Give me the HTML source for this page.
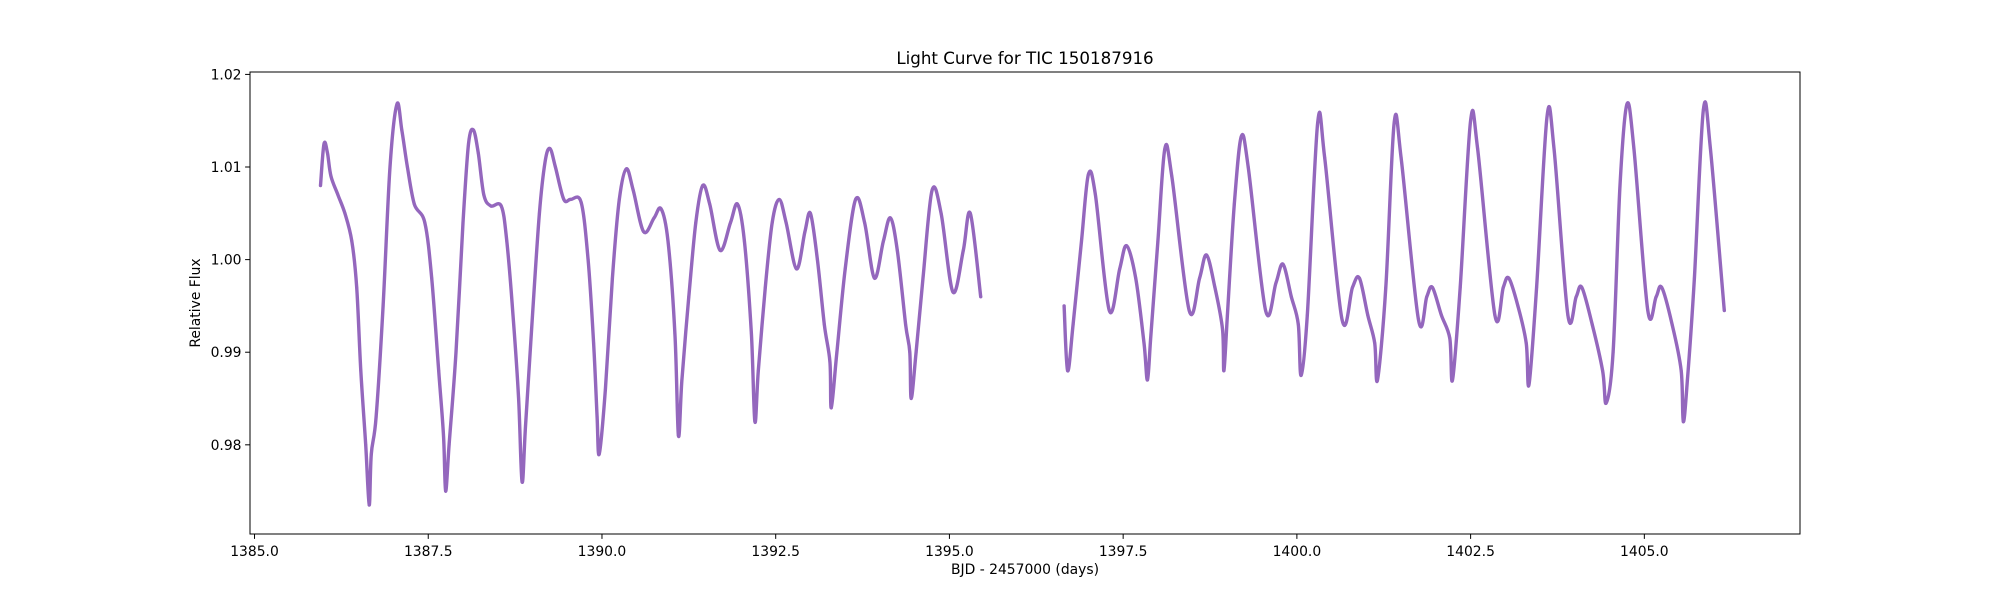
<!DOCTYPE html>
<html><head><meta charset="utf-8">
<style>
html,body{margin:0;padding:0;background:#fff;}
svg{display:block;font-family:"DejaVu Sans","Liberation Sans",sans-serif;}
</style></head>
<body>
<svg id="chart" width="2000" height="600" viewBox="0 0 2000 600">
  <rect x="0" y="0" width="2000" height="600" fill="#fff"/>
  <g id="series"></g>
  <rect x="250" y="72" width="1550" height="462" fill="none" stroke="#000" stroke-width="1"/>
  <g id="xticks"></g>
  <g id="yticks"></g>
  <text x="1025" y="64" text-anchor="middle" font-size="16.7">Light Curve for TIC 150187916</text>
  <text x="1025" y="574" text-anchor="middle" font-size="13.9">BJD - 2457000 (days)</text>
  <text x="0" y="0" transform="translate(200,303) rotate(-90)" text-anchor="middle" font-size="13.9">Relative Flux</text>
</svg>
<script>
const times = [1385.95,1386.0,1386.05,1386.1,1386.2,1386.3,1386.4,1386.47,1386.53,1386.6,1386.65,1386.68,1386.75,1386.85,1386.95,1387.05,1387.12,1387.2,1387.3,1387.45,1387.55,1387.65,1387.72,1387.75,1387.8,1387.9,1388.0,1388.08,1388.15,1388.22,1388.3,1388.4,1388.55,1388.63,1388.72,1388.8,1388.85,1388.9,1389.0,1389.1,1389.18,1389.25,1389.33,1389.45,1389.55,1389.7,1389.8,1389.88,1389.93,1389.96,1390.05,1390.15,1390.25,1390.35,1390.45,1390.6,1390.75,1390.85,1390.95,1391.05,1391.1,1391.15,1391.25,1391.35,1391.45,1391.55,1391.7,1391.85,1391.95,1392.05,1392.15,1392.2,1392.25,1392.35,1392.45,1392.55,1392.65,1392.8,1392.92,1393.0,1393.1,1393.2,1393.28,1393.3,1393.38,1393.5,1393.65,1393.78,1393.92,1394.05,1394.15,1394.25,1394.37,1394.43,1394.45,1394.52,1394.62,1394.75,1394.88,1395.05,1395.2,1395.3,1395.45,
1396.65,1396.7,1396.78,1396.9,1397.0,1397.1,1397.3,1397.45,1397.55,1397.68,1397.8,1397.85,1397.9,1398.0,1398.1,1398.2,1398.45,1398.6,1398.7,1398.82,1398.93,1398.95,1399.0,1399.1,1399.2,1399.3,1399.55,1399.7,1399.8,1399.92,1400.02,1400.06,1400.15,1400.3,1400.4,1400.65,1400.8,1400.9,1401.02,1401.12,1401.16,1401.28,1401.4,1401.5,1401.75,1401.87,1401.95,1402.08,1402.2,1402.24,1402.35,1402.5,1402.6,1402.85,1402.97,1403.05,1403.18,1403.3,1403.34,1403.45,1403.6,1403.7,1403.9,1404.02,1404.1,1404.25,1404.4,1404.45,1404.55,1404.65,1404.75,1404.85,1405.05,1405.17,1405.25,1405.4,1405.53,1405.56,1405.62,1405.72,1405.85,1405.95,1406.15];
const flux = [1.008,1.0125,1.0115,1.009,1.007,1.005,1.002,0.997,0.988,0.980,0.9735,0.979,0.983,0.995,1.010,1.0168,1.014,1.010,1.006,1.004,0.998,0.988,0.981,0.975,0.980,0.990,1.004,1.0125,1.014,1.0115,1.007,1.0058,1.0058,1.002,0.994,0.985,0.976,0.982,0.994,1.005,1.0105,1.012,1.010,1.0065,1.0065,1.0062,1.0,0.991,0.983,0.979,0.986,0.998,1.0065,1.0098,1.0075,1.003,1.0045,1.0055,1.002,0.992,0.981,0.987,0.996,1.004,1.008,1.006,1.001,1.004,1.006,1.002,0.992,0.9825,0.988,0.997,1.004,1.0065,1.004,0.999,1.003,1.005,1.0,0.993,0.989,0.984,0.990,0.999,1.0065,1.004,0.998,1.002,1.0045,1.001,0.993,0.990,0.985,0.990,0.998,1.0075,1.005,0.9965,1.001,1.005,0.996,
0.995,0.988,0.993,1.002,1.0092,1.007,0.9945,0.999,1.0015,0.998,0.991,0.987,0.992,1.002,1.012,1.009,0.9945,0.998,1.0005,0.997,0.9925,0.988,0.994,1.006,1.0133,1.010,0.9945,0.9975,0.9995,0.996,0.993,0.9875,0.994,1.0148,1.011,0.9935,0.997,0.998,0.994,0.991,0.987,0.997,1.0148,1.011,0.9935,0.996,0.997,0.994,0.9915,0.987,0.997,1.015,1.012,0.994,0.997,0.998,0.995,0.991,0.9865,0.997,1.0155,1.012,0.994,0.996,0.997,0.993,0.988,0.9845,0.990,1.008,1.0168,1.012,0.9945,0.996,0.997,0.993,0.988,0.9825,0.987,0.998,1.0162,1.012,0.9945];
const xTickValues = [1385.0,1387.5,1390.0,1392.5,1395.0,1397.5,1400.0,1402.5,1405.0];
const xTickLabels = ["1385.0","1387.5","1390.0","1392.5","1395.0","1397.5","1400.0","1402.5","1405.0"];
const yTickValues = [0.98,0.99,1.00,1.01,1.02];
const yTickLabels = ["0.98","0.99","1.00","1.01","1.02"];

const NS = "http://www.w3.org/2000/svg";
const X0=250,X1=1800,Y0=72,Y1=534;
const xMin=1384.935,xMax=1407.24,yMin=0.97037,yMax=1.02026;
function xs(t){return X0+(t-xMin)/(xMax-xMin)*(X1-X0);}
function ys(f){return Y1-(f-yMin)/(yMax-yMin)*(Y1-Y0);}

// split into segments at data gaps
const segs=[];let cur=[];
for(let i=0;i<times.length;i++){
  if(i>0&&times[i]-times[i-1]>0.5){segs.push(cur);cur=[];}
  cur.push([xs(times[i]),ys(flux[i])]);
}
segs.push(cur);
let d="";
segs.forEach(p=>{
  d+="M"+p[0][0].toFixed(1)+","+p[0][1].toFixed(1);
  for(let i=0;i<p.length-1;i++){
    const p0=p[Math.max(0,i-1)],p1=p[i],p2=p[i+1],p3=p[Math.min(p.length-1,i+2)];
    const c1x=p1[0]+(p2[0]-p0[0])/6,c1y=p1[1]+(p2[1]-p0[1])/6;
    const c2x=p2[0]-(p3[0]-p1[0])/6,c2y=p2[1]-(p3[1]-p1[1])/6;
    d+=" C"+c1x.toFixed(1)+","+c1y.toFixed(1)+" "+c2x.toFixed(1)+","+c2y.toFixed(1)+" "+p2[0].toFixed(1)+","+p2[1].toFixed(1);
  }
  d+=" ";
});
const series=document.getElementById('series');
const path=document.createElementNS(NS,'path');
path.setAttribute('d',d);
path.setAttribute('fill','none');
path.setAttribute('stroke','#9467bd');
path.setAttribute('stroke-width','3.4');
path.setAttribute('stroke-linejoin','round');
path.setAttribute('stroke-linecap','round');


series.appendChild(path);
for(let i=0;i<times.length;i++){
  const c=document.createElementNS(NS,'circle');
  c.setAttribute('cx',xs(times[i]).toFixed(1));
  c.setAttribute('cy',ys(flux[i]).toFixed(1));
  c.setAttribute('r','1.5');
  c.setAttribute('fill','#9467bd');
  
  
  series.appendChild(c);
}

const xg=document.getElementById('xticks');
xTickValues.forEach((v,i)=>{
  const x=xs(v);
  const l=document.createElementNS(NS,'line');
  l.setAttribute('x1',x);l.setAttribute('x2',x);l.setAttribute('y1',Y1);l.setAttribute('y2',Y1+4.9);
  l.setAttribute('stroke','#000');l.setAttribute('stroke-width','1');
  
  
  xg.appendChild(l);
  const t=document.createElementNS(NS,'text');
  t.setAttribute('x',x);t.setAttribute('y',Y1+22);t.setAttribute('text-anchor','middle');t.setAttribute('font-size','13.9');
  t.textContent=xTickLabels[i];
  
  
  xg.appendChild(t);
});
const yg=document.getElementById('yticks');
yTickValues.forEach((v,i)=>{
  const y=ys(v);
  const l=document.createElementNS(NS,'line');
  l.setAttribute('x1',X0-4.9);l.setAttribute('x2',X0);l.setAttribute('y1',y);l.setAttribute('y2',y);
  l.setAttribute('stroke','#000');l.setAttribute('stroke-width','1');
  
  
  yg.appendChild(l);
  const t=document.createElementNS(NS,'text');
  t.setAttribute('x',X0-8.5);t.setAttribute('y',y+5);t.setAttribute('text-anchor','end');t.setAttribute('font-size','13.9');
  t.textContent=yTickLabels[i];
  
  
  yg.appendChild(t);
});
</script>
</body></html>
